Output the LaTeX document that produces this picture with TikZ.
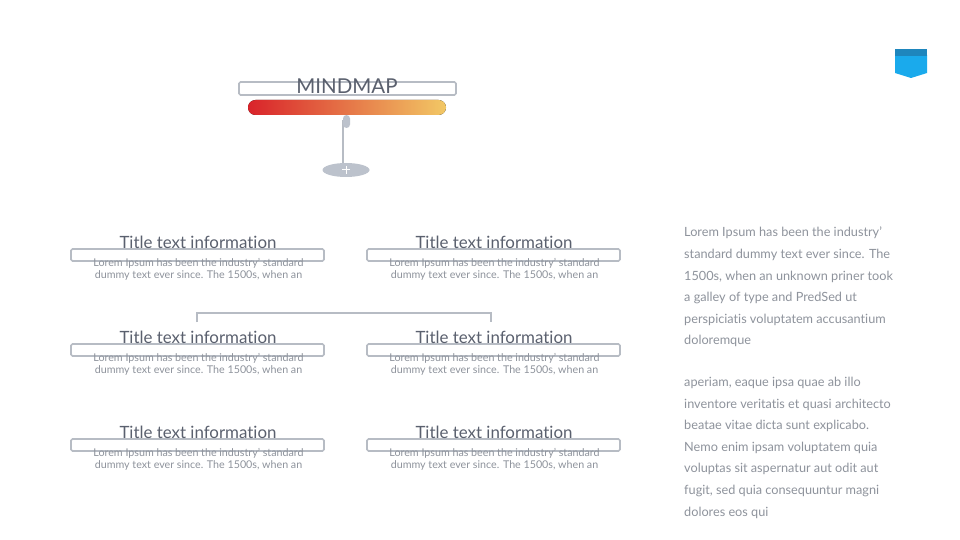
\documentclass[tikz,border=0pt]{standalone}
\usepackage{fontspec}
\setmainfont[RawFeature={-liga;-dlig;-clig}]{Lato}
\usetikzlibrary{shapes.geometric}
\definecolor{titlegray}{HTML}{5A606E}
\definecolor{bodygray}{HTML}{8E939C}
\definecolor{boxgray}{HTML}{B7BCC4}
\definecolor{knobgray}{HTML}{BCC2CC}
\definecolor{barred}{HTML}{D9232A}
\definecolor{baryellow}{HTML}{F2C865}
\definecolor{tagdark}{HTML}{1E86BD}
\definecolor{taglight}{HTML}{1AAAEC}
\tikzset{
  cardtitle/.style={text=titlegray, font=\fontsize{16.9}{19}\selectfont, inner sep=0pt},
  cardbody/.style={text=bodygray, font=\fontsize{10.7}{12}\selectfont, align=center, inner sep=0pt},
  cardbox/.style={draw=boxgray, line width=1.6pt, rounded corners=1.5pt},
  linkline/.style={draw=boxgray, line width=1.6pt},
  sidetext/.style={text=bodygray, font=\fontsize{12.7}{21.6}\selectfont, align=left, inner sep=0pt, anchor=north west}
}
\newcommand{\bodytxt}{Lorem Ipsum has been the industry' standard\\dummy text ever since. The 1500s, when an}
\begin{document}
\begin{tikzpicture}[x=1pt,y=-1pt]
\useasboundingbox[fill=white] (0,0) rectangle (960,540);

% header
\draw[cardbox] (239,82) rectangle (456,95);
\node[text=titlegray, font=\fontsize{20.5}{24}\selectfont, inner sep=0pt] (mm) at (347,86) {MINDMAP};
\fill[left color=barred, right color=baryellow, rounded corners=7.5pt] (248,100) rectangle (446,115);
\coordinate (stemtop) at (343,120);
\coordinate (stembot) at (343,164);
\draw[draw=boxgray, line width=1.8pt] (stemtop) -- (stembot);
\fill[knobgray, rounded corners=3.5pt] (343,115) rectangle (350,128);
\node[ellipse, fill=knobgray, minimum width=47pt, minimum height=14pt, inner sep=0pt] (plus) at (346,170) {};
\draw[white, line width=1pt] (342,170) -- (350,170) (346,166) -- (346,174);

% tag
\fill[taglight] (895,55) -- (927,55) -- (927,73) -- (911,78) -- (895,73) -- cycle;
\fill[tagdark] (895,49) rectangle (927,56);

% cards
\foreach \cx/\x/\y [count=\i] in {198/71/242, 494/367/242, 198/71/337, 494/367/337, 198/71/432, 494/367/432}{
  \draw[cardbox] (\x,\y+7) rectangle (\x+253,\y+19);
  \node[cardtitle] (t\i) at (\cx,\y) {Title text information};
  \node[cardbody] (b\i) at (\cx+0.5,\y+27.5) {\bodytxt};
}

% bracket
\coordinate (bl) at (197,322);
\coordinate (br) at (491,322);
\draw[linkline] (bl) -- (197,313) -- (491,313) -- (br);

% side text
\node[sidetext] (p1) at (684,227) {Lorem Ipsum has been the industry'\\standard dummy text ever since. The\\1500s, when an unknown priner took\\a galley of type and PredSed ut\\perspiciatis voluptatem accusantium\\doloremque};
\node[sidetext] (p2) at (684,377) {aperiam, eaque ipsa quae ab illo\\inventore veritatis et quasi architecto\\beatae vitae dicta sunt explicabo.\\Nemo enim ipsam voluptatem quia\\voluptas sit aspernatur aut odit aut\\fugit, sed quia consequuntur magni\\dolores eos qui};
\end{tikzpicture}
\end{document}
